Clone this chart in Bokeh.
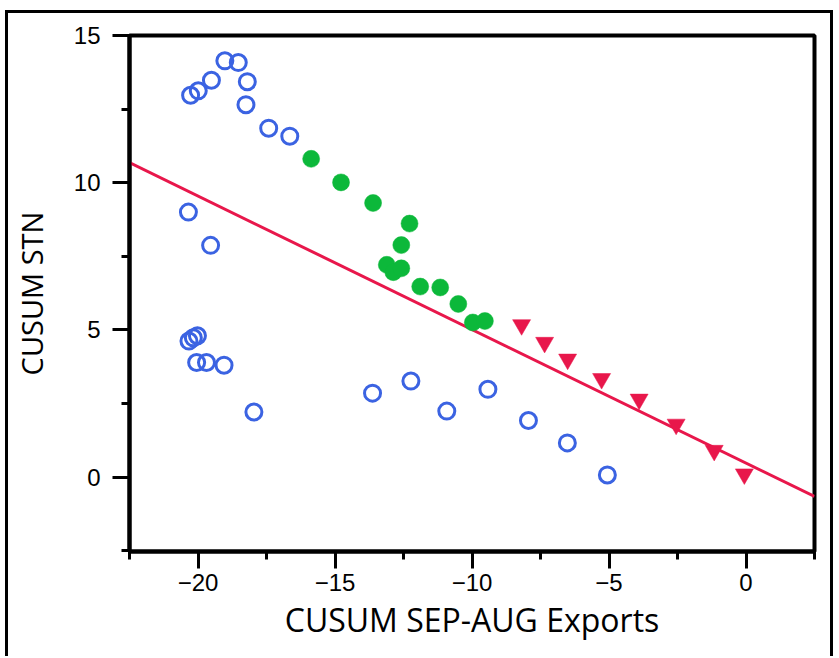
from bokeh.plotting import figure
from bokeh.models import FixedTicker
from bokeh.embed import file_html
from bokeh.resources import INLINE

# ---- data ----
blue_x = [-20.27, -19.99, -19.51, -19.02, -18.53, -18.20, -18.25, -17.42, -16.65,
          -20.35, -19.54, -20.33, -20.17, -20.02, -20.05, -19.69, -19.05, -17.96,
          -13.63, -12.23, -10.92, -9.42, -7.94, -6.52, -5.06]
blue_y = [12.97, 13.12, 13.48, 14.14, 14.08, 13.43, 12.65, 11.85, 11.58,
          9.00, 7.87, 4.62, 4.73, 4.80, 3.89, 3.89, 3.80, 2.21,
          2.85, 3.26, 2.24, 2.98, 1.92, 1.16, 0.07]

green_x = [-15.87, -14.78, -13.61, -12.28, -12.58, -13.11, -12.87, -12.58,
           -11.89, -11.16, -10.50, -9.97, -9.53]
green_y = [10.81, 10.01, 9.31, 8.61, 7.88, 7.21, 6.96, 7.09,
           6.47, 6.44, 5.88, 5.25, 5.30]

red_x = [-8.19, -7.35, -6.51, -5.27, -3.90, -2.55, -1.16, -0.06]
red_y = [5.17, 4.57, 4.00, 3.34, 2.64, 1.79, 0.90, 0.10]

fit_x = [-22.5, 2.5]
fit_y = [10.68, -0.66]

x_major = [-20, -15, -10, -5, 0]
x_minor = [-22.5, -17.5, -12.5, -7.5, -2.5, 2.5]
y_major = [0, 5, 10, 15]
y_minor = [-2.5, 2.5, 7.5, 12.5]

BLUE = "#3b63e2"
GREEN = "#0cb83a"
RED = "#e8174b"

p = figure(width=828, height=646, x_range=(-22.5, 2.5), y_range=(-2.53, 15),
           output_backend="svg", toolbar_location=None,
           min_border_left=114, min_border_right=22, min_border_top=22,
           min_border_bottom=108)
p.margin = (10, 0, 0, 5)
p.styles = {"border-top": "3px solid black", "border-left": "3px solid black",
            "border-right": "3px solid black"}

p.xgrid.visible = False
p.ygrid.visible = False
p.outline_line_color = "black"
p.outline_line_width = 4
p.outline_line_alpha = 1.0
p.background_fill_color = "white"
p.border_fill_color = "white"

p.line(fit_x, fit_y, line_color=RED, line_width=3)
p.scatter(blue_x, blue_y, marker="circle", size=16, fill_color=None,
          line_color=BLUE, line_width=3)
p.scatter(green_x, green_y, marker="circle", size=17, fill_color=GREEN,
          line_color=GREEN, line_width=0.5)
p.scatter(red_x, red_y, marker="inverted_triangle", size=18, fill_color=RED,
          line_color=RED, line_width=0.5)

p.xaxis.ticker = FixedTicker(ticks=x_major, minor_ticks=x_minor)
p.yaxis.ticker = FixedTicker(ticks=y_major, minor_ticks=y_minor)

for ax in (p.xaxis[0], p.yaxis[0]):
    ax.axis_line_width = 4
    ax.axis_line_color = "black"
    ax.major_tick_out = 17
    ax.major_tick_in = 0
    ax.minor_tick_out = 8
    ax.minor_tick_in = 0
    ax.major_tick_line_width = 3
    ax.minor_tick_line_width = 3
    ax.major_tick_line_color = "black"
    ax.minor_tick_line_color = "black"
    ax.major_label_text_font = "Liberation Sans"
    ax.major_label_text_font_size = "24px"
    ax.major_label_text_color = "black"
    ax.axis_label_text_font = "Open Sans"
    ax.axis_label_text_font_style = "normal"
    ax.axis_label_text_color = "black"

p.xaxis.axis_label_text_font_size = "32px"
p.yaxis.axis_label_text_font_size = "29px"
p.xaxis.axis_label = "CUSUM SEP-AUG Exports"
p.yaxis.axis_label = "CUSUM STN"
p.xaxis.major_label_standoff = 5
p.yaxis.major_label_standoff = 12
p.xaxis.axis_label_standoff = 4
p.yaxis.axis_label_standoff = 20

open("out.html", "w").write(file_html(p, INLINE))
